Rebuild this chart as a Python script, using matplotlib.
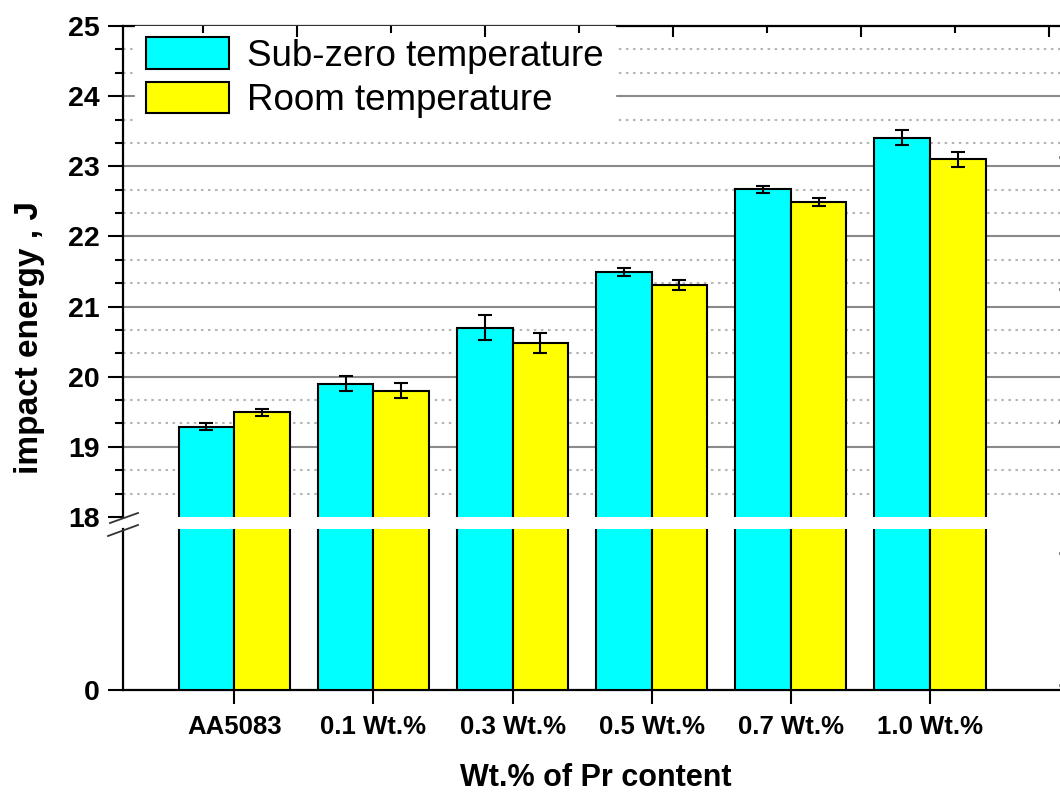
import numpy as np
import matplotlib
matplotlib.use('Agg')
import matplotlib.pyplot as plt
from matplotlib.ticker import MultipleLocator, AutoMinorLocator
from matplotlib.lines import Line2D

plt.rcParams['font.family'] = ['Liberation Sans', 'DejaVu Sans']

# data
categories = ['AA5083', '0.1 Wt.%', '0.3 Wt.%', '0.5 Wt.%', '0.7 Wt.%', '1.0 Wt.%']
sub_zero = [19.29, 19.90, 20.70, 21.49, 22.67, 23.41]
sub_zero_err = [0.05, 0.11, 0.18, 0.06, 0.05, 0.11]
room = [19.49, 19.80, 20.48, 21.31, 22.49, 23.10]
room_err = [0.05, 0.11, 0.14, 0.07, 0.06, 0.11]

cyan = '#00FFFF'
yellow = '#FFFF00'
x = np.arange(1, len(categories) + 1)
w = 0.4

fig = plt.figure(figsize=(10.6, 7.94), dpi=100)
W, H = 1060.0, 794.0
left = 123 / W
width = 946 / W
ax_up = fig.add_axes([left, 1 - 517 / H, width, (517 - 26) / H])
ax_lo = fig.add_axes([left, 1 - 690 / H, width, (690 - 529) / H])

err_kw = dict(ecolor='black', elinewidth=1.5, capsize=5, capthick=1.5)
for ax in (ax_up, ax_lo):
    ax.bar(x - w / 2, sub_zero, w, color=cyan, edgecolor='black', linewidth=1.5,
           yerr=sub_zero_err, error_kw=err_kw, label='Sub-zero temperature', zorder=3)
    ax.bar(x + w / 2, room, w, color=yellow, edgecolor='black', linewidth=1.5,
           yerr=room_err, error_kw=err_kw, label='Room temperature', zorder=3)
    ax.set_xlim(0.2, 7.0)
    for s in ax.spines.values():
        s.set_linewidth(1.6)
    ax.spines['right'].set_visible(False)

# upper part 18..25
ax_up.set_ylim(18, 25)
ax_up.spines['bottom'].set_visible(False)
ax_up.yaxis.set_major_locator(MultipleLocator(1))
ax_up.yaxis.set_minor_locator(AutoMinorLocator(3))
ax_up.set_xticks([])
ax_up.tick_params(axis='y', which='major', direction='out', length=11, width=1.5,
                  labelsize=20.5, pad=6)
ax_up.tick_params(axis='y', which='minor', direction='out', length=6, width=1.5)
for lab in ax_up.get_yticklabels():
    lab.set_fontweight('bold')
ax_up.grid(axis='y', which='major', color='#8a8a8a', linewidth=1.5, zorder=0)
ax_up.grid(axis='y', which='minor', color='#b5b5b5', linewidth=1.5,
           linestyle=(0, (1.2, 2.2)), zorder=0)
ax_up.set_axisbelow(True)
# no grid line on the break edge
for tk in ax_up.yaxis.get_major_ticks():
    if abs(tk.get_loc() - 18) < 1e-6:
        tk.gridline.set_visible(False)

# lower part
ax_lo.set_ylim(0, 18)
ax_lo.spines['top'].set_visible(False)
ax_lo.set_yticks([0])
ax_lo.set_xticks(x)
ax_lo.set_xticklabels(categories)
ax_lo.tick_params(axis='y', direction='out', length=11, width=1.5, labelsize=20.5, pad=6)
ax_lo.tick_params(axis='x', direction='out', length=10, width=1.5, labelsize=18.5, pad=8)
for lab in ax_lo.get_yticklabels() + ax_lo.get_xticklabels():
    lab.set_fontweight('bold')
ax_lo.set_xlabel('Wt.% of Pr content', fontsize=22, fontweight='bold', labelpad=17)

# overlay for top and right ticks
ax_ov = fig.add_axes([left, 1 - 690 / H, width, (690 - 26) / H])
ax_ov.patch.set_visible(False)
ax_ov.set_frame_on(False)
ax_ov.set_xlim(-1.85, 8.21)
ax_ov.set_ylim(-1.04, 3.99)
ax_ov.xaxis.set_major_locator(MultipleLocator(2))
ax_ov.xaxis.set_minor_locator(MultipleLocator(1))
ax_ov.yaxis.set_major_locator(MultipleLocator(1))
ax_ov.tick_params(axis='x', which='both', bottom=False, labelbottom=False, top=True,
                  direction='in', width=1.5)
ax_ov.tick_params(axis='x', which='major', length=8)
ax_ov.tick_params(axis='x', which='minor', length=5)
ax_ov.tick_params(axis='y', left=False, labelleft=False, right=True, direction='in',
                  length=7, width=2)

leg = ax_up.legend(loc='upper left', bbox_to_anchor=(0.0127, 1.0), borderaxespad=0,
                   fontsize=26.5, frameon=True, fancybox=False, framealpha=1,
                   facecolor='white', edgecolor='white', handlelength=2.25,
                   handleheight=0.95, labelspacing=0.22, handletextpad=0.5,
                   borderpad=0.3)
leg.set_zorder(5)

# axis break marks
fig.add_artist(Line2D([110 / W, 138 / W], [1 - 523 / H, 1 - 513 / H], color='#333333', lw=1.3))
fig.add_artist(Line2D([108 / W, 138 / W], [1 - 536 / H, 1 - 525 / H], color='#333333', lw=1.3))

fig.text(30 / W, 1 - 338 / H, 'impact energy , J', rotation=90, fontsize=24,
         fontweight='bold', ha='center', va='center')

fig.savefig('out.png', dpi=100)
